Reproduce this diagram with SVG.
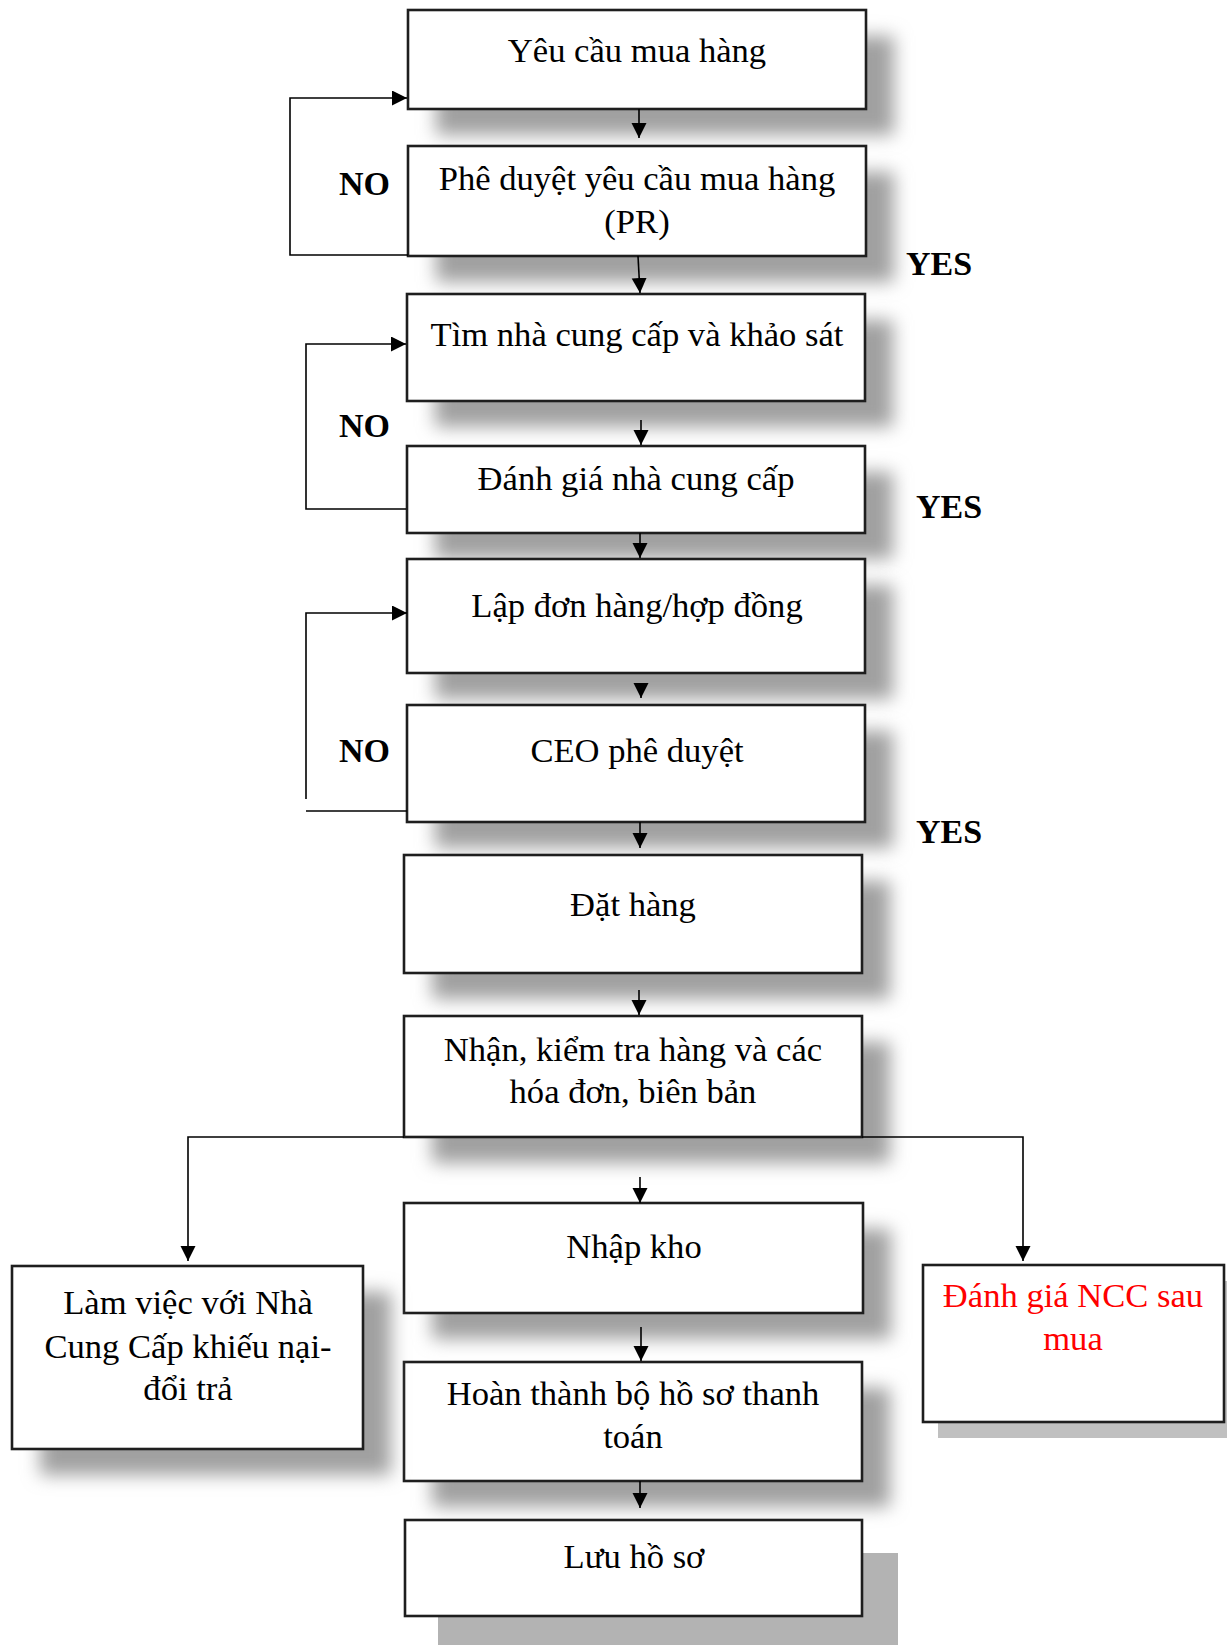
<svg xmlns="http://www.w3.org/2000/svg" width="1227" height="1645" viewBox="0 0 1227 1645">
  <defs>
    <filter id="soft" x="-20%" y="-30%" width="140%" height="160%">
      <feGaussianBlur stdDeviation="9"/>
    </filter>
    <marker id="arrow" markerUnits="userSpaceOnUse" markerWidth="16" markerHeight="16" refX="15" refY="7.5" orient="auto">
      <path d="M0,0 L15,7.5 L0,15 z" fill="#000"/>
    </marker>
  </defs>
  <style>
    .box { fill: #fff; stroke: #1e1e1e; stroke-width: 2.6; }
    .shadow { fill: #a0a0a0; filter: url(#soft); }
    .hard { fill: #b3b3b3; }
    .hard2 { fill: #c0c0c0; }
    .t { font-family: "Liberation Serif", "Times New Roman", serif; font-size: 34.6px; fill: #000; text-anchor: middle; }
    .red { fill: #ff0000; }
    .lbl { font-family: "Liberation Serif", "Times New Roman", serif; font-size: 34px; font-weight: bold; fill: #000; }
    .c { fill: none; stroke: #000; stroke-width: 1.6; }
  </style>
  <rect width="1227" height="1645" fill="#fff"/>

  <!-- process steps: each box carries its own drop shadow -->
  <g id="n1">
    <rect class="shadow" x="436" y="36" width="458" height="99"/>
    <rect class="box" x="408" y="10" width="458" height="99"/>
    <text class="t" x="637" y="62">Yêu cầu mua hàng</text>
  </g>
  <g id="n2">
    <rect class="shadow" x="436" y="172" width="458" height="110"/>
    <rect class="box" x="408" y="146" width="458" height="110"/>
    <text class="t" x="637" y="190">Phê duyệt yêu cầu mua hàng</text>
    <text class="t" x="637" y="233">(PR)</text>
  </g>
  <g id="n3">
    <rect class="shadow" x="435" y="320" width="458" height="107"/>
    <rect class="box" x="407" y="294" width="458" height="107"/>
    <text class="t" x="637" y="346">Tìm nhà cung cấp và khảo sát</text>
  </g>
  <g id="n4">
    <rect class="shadow" x="435" y="472" width="458" height="87"/>
    <rect class="box" x="407" y="446" width="458" height="87"/>
    <text class="t" x="636" y="490">Đánh giá nhà cung cấp</text>
  </g>
  <g id="n5">
    <rect class="shadow" x="435" y="585" width="458" height="114"/>
    <rect class="box" x="407" y="559" width="458" height="114"/>
    <text class="t" x="637" y="617">Lập đơn hàng/hợp đồng</text>
  </g>
  <g id="n6">
    <rect class="shadow" x="435" y="731" width="458" height="117"/>
    <rect class="box" x="407" y="705" width="458" height="117"/>
    <text class="t" x="637" y="762">CEO phê duyệt</text>
  </g>
  <g id="n7">
    <rect class="shadow" x="432" y="881" width="458" height="118"/>
    <rect class="box" x="404" y="855" width="458" height="118"/>
    <text class="t" x="633" y="916">Đặt hàng</text>
  </g>
  <g id="n8">
    <rect class="shadow" x="432" y="1042" width="458" height="121"/>
    <rect class="box" x="404" y="1016" width="458" height="121"/>
    <text class="t" x="633" y="1061">Nhận, kiểm tra hàng và các</text>
    <text class="t" x="633" y="1103">hóa đơn, biên bản</text>
  </g>
  <g id="n9">
    <rect class="shadow" x="432" y="1229" width="459" height="110"/>
    <rect class="box" x="404" y="1203" width="459" height="110"/>
    <text class="t" x="634" y="1258">Nhập kho</text>
  </g>
  <g id="n10">
    <rect class="shadow" x="432" y="1388" width="458" height="119"/>
    <rect class="box" x="404" y="1362" width="458" height="119"/>
    <text class="t" x="633" y="1405">Hoàn thành bộ hồ sơ thanh</text>
    <text class="t" x="633" y="1448">toán</text>
  </g>
  <g id="n11">
    <rect class="hard" x="438" y="1553" width="460" height="96"/>
    <rect class="box" x="405" y="1520" width="457" height="96"/>
    <text class="t" x="634" y="1568">Lưu hồ sơ</text>
  </g>
  <g id="n12">
    <rect class="shadow" x="40" y="1292" width="351" height="183"/>
    <rect class="box" x="12" y="1266" width="351" height="183"/>
    <text class="t" x="188" y="1314">Làm việc với Nhà</text>
    <text class="t" x="188" y="1358">Cung Cấp khiếu nại-</text>
    <text class="t" x="188" y="1400">đổi trả</text>
  </g>
  <g id="n13">
    <rect class="hard2" x="938" y="1281" width="300" height="157"/>
    <rect class="box" x="923" y="1265" width="301" height="157"/>
    <text class="t red" x="1073" y="1307">Đánh giá NCC sau</text>
    <text class="t red" x="1073" y="1350">mua</text>
  </g>

  <!-- decision labels -->
  <g id="labels">
    <text class="lbl" x="339" y="195">NO</text>
    <text class="lbl" x="339" y="437">NO</text>
    <text class="lbl" x="339" y="762">NO</text>
    <text class="lbl" x="906" y="275">YES</text>
    <text class="lbl" x="916" y="518">YES</text>
    <text class="lbl" x="916" y="843">YES</text>
  </g>

  <!-- connectors -->
  <g id="connectors">
    <line class="c" x1="639" y1="109" x2="639" y2="138" marker-end="url(#arrow)"/>
    <line class="c" x1="638" y1="256" x2="640" y2="293" marker-end="url(#arrow)"/>
    <line class="c" x1="641" y1="420" x2="641" y2="445" marker-end="url(#arrow)"/>
    <line class="c" x1="640" y1="533" x2="640" y2="558" marker-end="url(#arrow)"/>
    <line class="c" x1="641" y1="683" x2="641" y2="698" marker-end="url(#arrow)"/>
    <line class="c" x1="640" y1="822" x2="640" y2="848" marker-end="url(#arrow)"/>
    <line class="c" x1="639" y1="990" x2="639" y2="1015" marker-end="url(#arrow)"/>
    <line class="c" x1="640" y1="1177" x2="640" y2="1203" marker-end="url(#arrow)"/>
    <line class="c" x1="641" y1="1327" x2="641" y2="1361" marker-end="url(#arrow)"/>
    <line class="c" x1="640" y1="1481" x2="640" y2="1508" marker-end="url(#arrow)"/>

    <polyline class="c" points="408,255 290,255 290,98 407,98" marker-end="url(#arrow)"/>
    <polyline class="c" points="406,509 306,509 306,344 406,344" marker-end="url(#arrow)"/>
    <line class="c" x1="407" y1="811" x2="306" y2="811"/>
    <polyline class="c" points="306,799 306,613 407,613" marker-end="url(#arrow)"/>

    <polyline class="c" points="404,1137 188,1137 188,1261" marker-end="url(#arrow)"/>
    <polyline class="c" points="862,1137 1023,1137 1023,1261" marker-end="url(#arrow)"/>
  </g>
</svg>
